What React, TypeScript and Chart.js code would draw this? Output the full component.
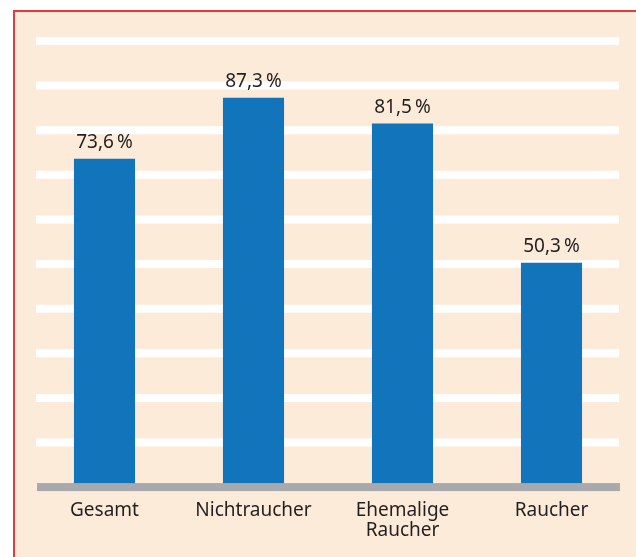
import React, { useEffect, useRef } from "react";
import { Chart, registerables } from "chart.js";

Chart.register(...registerables);

const categories: (string | string[])[] = ["Gesamt", "Nichtraucher", ["Ehemalige", "Raucher"], "Raucher"];
const values: number[] = [73.6, 87.3, 81.5, 50.3];
const yMin = 0;
const yMax = 100;
const yStep = 10;

const FONT = "'Noto Sans', sans-serif";
const TEXT = "#231f20";

const decor = {
  id: "decor",
  beforeDatasetsDraw(chart: any) {
    const { ctx, chartArea, scales } = chart;
    const y = scales.y;
    ctx.save();
    ctx.strokeStyle = "#ffffff";
    ctx.lineWidth = 8;
    y.ticks.forEach((t: any) => {
      if (t.value === yMin) return;
      const py = y.getPixelForValue(t.value);
      ctx.beginPath();
      ctx.moveTo(chartArea.left + 6, py);
      ctx.lineTo(chartArea.right - 7, py);
      ctx.stroke();
    });
    ctx.restore();
  },
  afterDatasetsDraw(chart: any) {
    const { ctx, chartArea, scales } = chart;
    const y = scales.y;
    ctx.save();
    const py = y.getPixelForValue(yMin);
    ctx.fillStyle = "#a7a9ac";
    ctx.fillRect(chartArea.left + 7, py - 4, chartArea.right - chartArea.left - 13, 8);
    const meta = chart.getDatasetMeta(0);
    ctx.fillStyle = TEXT;
    ctx.font = `19px ${FONT}`;
    ctx.textAlign = "center";
    ctx.textBaseline = "alphabetic";
    meta.data.forEach((bar: any, i: number) => {
      const label = values[i].toFixed(1).replace(".", ",") + "\u2009%";
      ctx.fillText(label, bar.x, bar.y - 11);
    });
    ctx.restore();
  },
};

export default function App() {
  const ref = useRef<HTMLCanvasElement>(null);
  useEffect(() => {
    if (!ref.current) return;
    const chart = new Chart(ref.current, {
      type: "bar",
      data: {
        labels: categories,
        datasets: [
          {
            data: values,
            backgroundColor: "#1274bb",
            categoryPercentage: 0.41,
            barPercentage: 1,
          },
        ],
      },
      options: {
        animation: false,
        responsive: false,
        maintainAspectRatio: false,
        layout: { padding: { left: 30, right: 10, top: 41, bottom: 2 } },
        plugins: { legend: { display: false }, tooltip: { enabled: false } },
        scales: {
          y: {
            display: false,
            min: yMin,
            max: yMax,
            ticks: { stepSize: yStep },
          },
          x: {
            grid: { display: false, drawTicks: false },
            border: { display: false },
            ticks: {
              color: TEXT,
              padding: 14,
              font: { family: FONT, size: 19, lineHeight: 1.05 },
              maxRotation: 0,
            },
          },
        },
      },
      plugins: [decor],
    });
    return () => chart.destroy();
  }, []);
  return (
    <>
      <div
        style={{
          position: "fixed",
          left: 13,
          top: 10,
          right: 0,
          bottom: 0,
          background: "#fdebd9",
          borderTop: "2px solid #e8393f",
          borderLeft: "2px solid #e8393f",
        }}
      />
      <canvas
        ref={ref}
        width={636}
        height={557}
        style={{ position: "fixed", left: 0, top: 0, width: 636, height: 557 }}
      />
    </>
  );
}
